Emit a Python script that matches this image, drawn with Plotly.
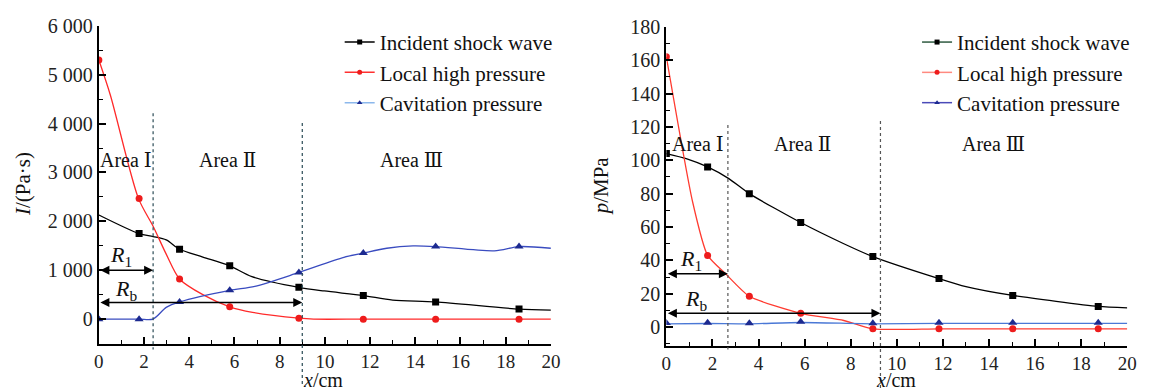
import plotly.graph_objects as go

# ---------------- data : left panel (impulse I, Pa·s) ----------------
L_inc_curve_x = [0, 1.78, 2.4, 2.98, 3.57, 4.6, 5.79, 6.77, 8.85, 9.97, 11.7, 13.0, 14.9, 18.59, 20]
L_inc_curve_y = [2130, 1750, 1690, 1620, 1430, 1270, 1090, 870, 650, 576, 483, 391, 352, 205, 185]
L_loc_curve_x = [0, 0.51, 1.75, 2.4, 2.98, 3.57, 4.6, 5.79, 6.8, 8.85, 9.5, 11.7, 14.9, 18.59, 20]
L_loc_curve_y = [5300, 4580, 2470, 1900, 1330, 822, 500, 252, 140, 20, 0, 0, 0, 0, 0]
L_cav_curve_x = [0, 1.78, 2.39, 2.98, 3.57, 5.79, 6.9, 8.85, 10.84, 11.7, 12.74, 13.9, 14.9, 17.5, 18.59, 20]
L_cav_curve_y = [0, 0, 0, 240, 352, 590, 670, 954, 1265, 1351, 1450, 1497, 1484, 1397, 1484, 1450]

L_pts_x = [1.78, 3.57, 5.79, 8.85, 11.7, 14.9, 18.59]
L_inc_pts = [1750, 1430, 1090, 650, 483, 352, 205]
L_loc_pts_x = [0] + L_pts_x
L_loc_pts = [5300, 2470, 822, 252, 20, 0, 0, 0]
L_cav_pts_x = [0] + L_pts_x
L_cav_pts = [0, 0, 352, 590, 954, 1351, 1484, 1484]

L_bounds = [2.4, 9.0]          # R1, Rb
L_arrow_y = [1000, 340]

# ---------------- data : right panel (pressure p, MPa) ----------------
R_inc_curve_x = [0, 0.86, 1.79, 2.71, 3.6, 5.83, 7.7, 8.96, 11.83, 13.0, 15.03, 18.74, 20]
R_inc_curve_y = [104, 101, 96, 89, 80, 62.7, 50, 42.3, 29.1, 24.3, 19, 12.4, 11.5]
R_loc_curve_x = [0, 1.14, 1.79, 2.57, 3.6, 5.83, 7.7, 8.96, 11.83, 15.03, 18.74, 20]
R_loc_curve_y = [162, 75, 43, 32, 18.5, 8.3, 4, -1, -1, -1, -1, -1]
R_cav_curve_x = [0, 1.79, 3.6, 5.83, 8.96, 11.83, 15.03, 18.74, 20]
R_cav_curve_y = [2, 2.2, 2, 2.8, 2, 2.3, 2.3, 2.3, 2.3]

R_pts_x = [1.79, 3.6, 5.83, 8.96, 11.83, 15.03, 18.74]
R_inc_pts_x = [0] + R_pts_x
R_inc_pts = [104, 96, 80, 62.7, 42.3, 29.1, 19, 12.4]
R_loc_pts_x = [0] + R_pts_x
R_loc_pts = [162, 43, 18.5, 8.3, -1, -1, -1, -1]
R_cav_pts_x = [0] + R_pts_x
R_cav_pts = [2.5, 2.6, 2.3, 3.2, 2.4, 2.6, 2.6, 2.6]

R_bounds = [2.67, 9.29]
R_arrow_y = [32, 8.3]

series_names = ["Incident shock wave", "Local high pressure", "Cavitation pressure"]
L_yticks = [0, 1000, 2000, 3000, 4000, 5000, 6000]
L_yticktext = ["0", "1 000", "2 000", "3 000", "4 000", "5 000", "6 000"]
R_yticks = [0, 20, 40, 60, 80, 100, 120, 140, 160, 180]
x_ticks = [0, 2, 4, 6, 8, 10, 12, 14, 16, 18, 20]

SERIF = "Liberation Serif, DejaVu Serif, Times New Roman, serif"
RN = "Liberation Serif, DejaVu Serif, serif"

W, H, OFF = 1150, 390, 8   # page shows the figure shifted by the body margin


def PX(x):  # screen x -> paper fraction
    return (x - OFF) / W


def PY(y):  # screen y -> paper fraction
    return 1 - (y - OFF) / H


fig = go.Figure()

line_cols_L = ["#000000", "#ff2a2a", "#3a4cc0"]
line_cols_R = ["#000000", "#ff3b30", "#4a78d6"]
mk_cols = ["#000000", "#ee1c1c", "#1c2a90"]
mk_sym = ["square", "circle", "triangle-up"]
mk_size = [7, 7, 8]
leg_cols_L = ["#000000", "#ff3030", "#8cb8ec"]
leg_cols_R = ["#2e5a40", "#ff8a80", "#4a4ab8"]

L_curves = [(L_inc_curve_x, L_inc_curve_y), (L_loc_curve_x, L_loc_curve_y), (L_cav_curve_x, L_cav_curve_y)]
L_points = [(L_pts_x, L_inc_pts), (L_loc_pts_x, L_loc_pts), (L_cav_pts_x, L_cav_pts)]
R_curves = [(R_inc_curve_x, R_inc_curve_y), (R_loc_curve_x, R_loc_curve_y), (R_cav_curve_x, R_cav_curve_y)]
R_points = [(R_inc_pts_x, R_inc_pts), (R_loc_pts_x, R_loc_pts), (R_cav_pts_x, R_cav_pts)]

for i in range(3):
    cx, cy = L_curves[i]
    fig.add_trace(go.Scatter(x=cx, y=cy, mode="lines", line=dict(color=line_cols_L[i], width=1.3, shape="spline", smoothing=0.8),
                             showlegend=False, xaxis="x", yaxis="y", hoverinfo="skip"))
    px, py = L_points[i]
    fig.add_trace(go.Scatter(x=px, y=py, mode="markers", marker=dict(symbol=mk_sym[i], size=mk_size[i], color=mk_cols[i]),
                             showlegend=False, xaxis="x", yaxis="y"))
    fig.add_trace(go.Scatter(x=[None], y=[None], mode="lines+markers", name=series_names[i],
                             line=dict(color=leg_cols_L[i], width=1.5),
                             marker=dict(symbol=mk_sym[i], size=5, color=mk_cols[i]),
                             xaxis="x", yaxis="y", legend="legend"))
for i in range(3):
    cx, cy = R_curves[i]
    fig.add_trace(go.Scatter(x=cx, y=cy, mode="lines", line=dict(color=line_cols_R[i], width=1.3, shape="spline", smoothing=0.6),
                             showlegend=False, xaxis="x2", yaxis="y2", hoverinfo="skip"))
    px, py = R_points[i]
    fig.add_trace(go.Scatter(x=px, y=py, mode="markers", marker=dict(symbol=mk_sym[i], size=mk_size[i], color=mk_cols[i]),
                             showlegend=False, xaxis="x2", yaxis="y2"))
    fig.add_trace(go.Scatter(x=[None], y=[None], mode="lines+markers", name=series_names[i],
                             line=dict(color=leg_cols_R[i], width=1.5),
                             marker=dict(symbol=mk_sym[i], size=5, color=mk_cols[i]),
                             xaxis="x2", yaxis="y2", legend="legend2"))

axis_common = dict(showline=True, linecolor="black", linewidth=2, ticks="inside", ticklen=7, tickwidth=1.5,
                   tickcolor="black", showgrid=False, zeroline=False, mirror=False, ticklabeloverflow="allow")
yfont = dict(family=SERIF, size=20, color="#222")
xfont = dict(family=SERIF, size=19, color="#222")

fig.update_layout(
    width=W, height=H, margin=dict(l=0, r=0, t=0, b=0),
    paper_bgcolor="white", plot_bgcolor="white",
    xaxis=dict(domain=[PX(95), PX(553)], range=[0, 20], tickvals=x_ticks, anchor="y", tickfont=xfont,
               minor=dict(ticks="inside", ticklen=4, dtick=1, tickcolor="black", tickwidth=1.2), **axis_common),
    yaxis=dict(domain=[PY(342), PY(15)], range=[-500, 6000], tickvals=L_yticks, ticktext=L_yticktext, anchor="x",
               tickfont=yfont,
               minor=dict(ticks="inside", ticklen=4, dtick=500, tickcolor="black", tickwidth=1.2), **axis_common),
    xaxis2=dict(domain=[PX(670), PX(1137)], range=[0, 20], tickvals=x_ticks, anchor="y2", tickfont=xfont,
                minor=dict(ticks="inside", ticklen=4, dtick=1, tickcolor="black", tickwidth=1.2), **axis_common),
    yaxis2=dict(domain=[PY(344), PY(16)], range=[-11, 180], tickvals=R_yticks, anchor="x2", tickfont=yfont,
                minor=dict(ticks="inside", ticklen=4, dtick=10, tickcolor="black", tickwidth=1.2), **axis_common),
    legend=dict(x=PX(339), y=PY(11), xanchor="left", yanchor="top", bgcolor="rgba(0,0,0,0)",
                font=dict(family=SERIF, size=21, color="#111"), tracegroupgap=0),
    legend2=dict(x=PX(924), y=PY(11), xanchor="left", yanchor="top", bgcolor="rgba(0,0,0,0)",
                 font=dict(family=SERIF, size=21, color="#111"), tracegroupgap=0),
    showlegend=True,
)

shapes = []
ann = []
# dashed area boundaries (x from data, vertical extent in screen pixels)
for b, (yt, yb) in zip(L_bounds, [(105, 348), (115, 386)]):
    shapes.append(dict(type="line", xref="x", yref="paper", x0=b, x1=b, y0=PY(yt), y1=PY(yb),
                       line=dict(color="#2a4a55", width=1.2, dash="dot")))
for b, (yt, yb) in zip(R_bounds, [(117, 348), (113, 388)]):
    shapes.append(dict(type="line", xref="x2", yref="paper", x0=b, x1=b, y0=PY(yt), y1=PY(yb),
                       line=dict(color="#555", width=1.2, dash="dot")))
fig.update_layout(shapes=shapes)

# R arrows
for (xr, yr, b, ya) in [("x", "y", L_bounds[0], L_arrow_y[0]), ("x", "y", L_bounds[1], L_arrow_y[1]),
                        ("x2", "y2", R_bounds[0], R_arrow_y[0]), ("x2", "y2", R_bounds[1], R_arrow_y[1])]:
    ann.append(dict(x=b, y=ya, ax=0, ay=ya, xref=xr, yref=yr, axref=xr, ayref=yr, text="", showarrow=True,
                    arrowside="end+start", arrowhead=2, arrowsize=1.2, arrowwidth=1.5, arrowcolor="black",
                    standoff=0, startstandoff=0))

lab_font = dict(family=RN, size=20, color="#111")
# area labels
for (xr, yr, xv, yv, t) in [("x", "y", 1.2, 3250, "Area Ⅰ"), ("x", "y", 5.7, 3250, "Area Ⅱ"), ("x", "y", 13.85, 3250, "Area Ⅲ"),
                            ("x2", "y2", 1.37, 109.5, "Area Ⅰ"), ("x2", "y2", 5.89, 109.5, "Area Ⅱ"), ("x2", "y2", 14.2, 109.5, "Area Ⅲ")]:
    ann.append(dict(x=xv, y=yv, xref=xr, yref=yr, text=t, showarrow=False, font=lab_font,
                    xanchor="center", yanchor="middle"))
# R labels
for (xr, yr, xv, yv, t) in [("x", "y", 1.0, 1290, "<i>R</i><sub>1</sub>"), ("x", "y", 1.2, 600, "<i>R</i><sub>b</sub>"),
                            ("x2", "y2", 1.07, 40, "<i>R</i><sub>1</sub>"), ("x2", "y2", 1.3, 16.5, "<i>R</i><sub>b</sub>")]:
    ann.append(dict(x=xv, y=yv, xref=xr, yref=yr, text=t, showarrow=False, font=dict(family=SERIF, size=22, color="#111"),
                    xanchor="center", yanchor="middle"))
# axis titles
for (xv, yv, t, ang, fs) in [(18, 178, "<i>I</i>/(Pa·s)", -90, 21), (604, 180, "<i>p</i>/MPa", -90, 21),
                             (322, 379, "<i>x</i>/cm", 0, 20), (903, 379, "<i>x</i>/cm", 0, 20)]:
    ann.append(dict(x=PX(xv), y=PY(yv), xref="paper", yref="paper", text=t, textangle=ang, showarrow=False,
                    font=dict(family=SERIF, size=fs, color="#111"), xanchor="center", yanchor="middle"))
fig.update_layout(annotations=ann)

fig.write_html("out.html")
